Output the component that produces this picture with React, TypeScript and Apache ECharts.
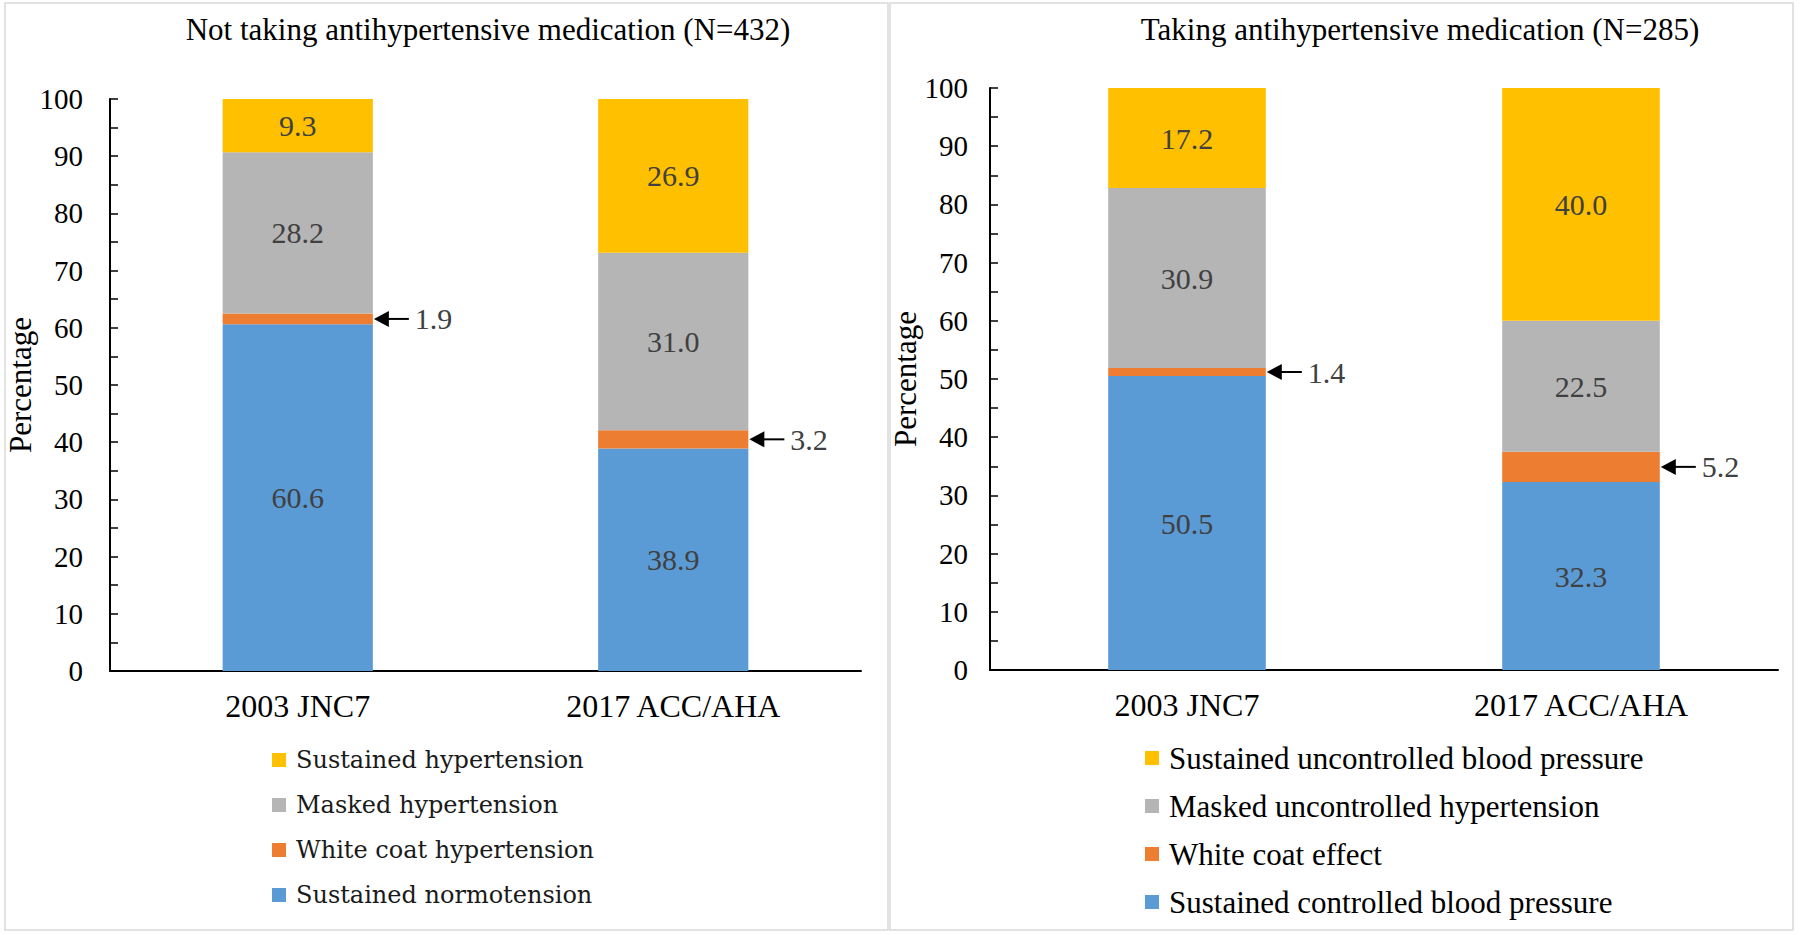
import React, { useEffect, useRef } from "react";
import * as echarts from "echarts";

const categories = ["2003 JNC7", "2017 ACC/AHA"];

const leftTitle = "Not taking antihypertensive medication (N=432)";
const rightTitle = "Taking antihypertensive medication (N=285)";
const yName = "Percentage";

const leftNames = [
  "Sustained normotension",
  "White coat hypertension",
  "Masked hypertension",
  "Sustained hypertension",
];
const leftBlue = [60.6, 38.9];
const leftOrange = [1.9, 3.2];
const leftGray = [28.2, 31.0];
const leftYellow = [9.3, 26.9];

const rightNames = [
  "Sustained controlled blood pressure",
  "White coat effect",
  "Masked uncontrolled hypertension",
  "Sustained uncontrolled blood pressure",
];
const rightBlue = [50.5, 32.3];
const rightOrange = [1.4, 5.2];
const rightGray = [30.9, 22.5];
const rightYellow = [17.2, 40.0];

const colors = ["#5B9BD5", "#ED7D31", "#B5B5B5", "#FFC000"];
const FONT = "Liberation Serif";

function buildSeries(
  gridIdx: number,
  names: string[],
  blue: number[],
  orange: number[],
  gray: number[],
  yellow: number[]
) {
  const sets = [blue, orange, gray, yellow];
  const stack = "s" + gridIdx;
  const bars = sets.map((vals, k) => ({
    type: "bar",
    name: names[k],
    xAxisIndex: gridIdx,
    yAxisIndex: gridIdx,
    stack,
    barCategoryGap: "60%",
    data: vals,
    itemStyle: { color: colors[k] },
    label: {
      show: k !== 1,
      position: "inside",
      formatter: (p: any) => Number(p.value).toFixed(1),
      color: "#404040",
      fontFamily: FONT,
      fontSize: 30,
    },
    emphasis: { disabled: true },
  }));
  const arrows = {
    type: "custom",
    xAxisIndex: gridIdx,
    yAxisIndex: gridIdx,
    silent: true,
    z: 10,
    encode: { x: 0, y: 1 },
    data: categories.map((_, i) => [i, blue[i] + orange[i] / 2, orange[i]]),
    renderItem: (params: any, api: any) => {
      const p = api.coord([api.value(0), api.value(1)]);
      const band = api.size([1, 0])[0];
      const x0 = p[0] + (band * 0.4) / 2;
      const y = p[1];
      return {
        type: "group",
        children: [
          {
            type: "polygon",
            shape: { points: [[x0 + 1, y], [x0 + 16, y - 8], [x0 + 16, y + 8]] },
            style: { fill: "#000" },
          },
          {
            type: "line",
            shape: { x1: x0 + 12, y1: y, x2: x0 + 36, y2: y },
            style: { stroke: "#000", lineWidth: 2 },
          },
          {
            type: "text",
            x: x0 + 42,
            y: y,
            style: {
              text: Number(api.value(2)).toFixed(1),
              fill: "#404040",
              fontSize: 30,
              fontFamily: FONT,
              align: "left",
              verticalAlign: "middle",
            },
          },
        ],
      };
    },
  };
  return [...bars, arrows];
}

function yAxisCfg(gridIdx: number, labelMargin: number) {
  return {
    type: "value",
    gridIndex: gridIdx,
    min: 0,
    max: 100,
    interval: 5,
    name: yName,
    nameLocation: "middle",
    nameGap: 66,
    nameRotate: 90,
    nameTextStyle: { fontFamily: FONT, fontSize: 31, color: "#000" },
    axisLine: { show: true, lineStyle: { color: "#000", width: 2 } },
    axisTick: { show: true, inside: true, length: 8, lineStyle: { color: "#000", width: 1.5 } },
    axisLabel: {
      formatter: (v: number) => (v % 10 === 0 ? String(v) : ""),
      fontFamily: FONT,
      fontSize: 29,
      color: "#000",
      margin: labelMargin,
    },
    splitLine: { show: false },
  };
}

function xAxisCfg(gridIdx: number) {
  return {
    type: "category",
    gridIndex: gridIdx,
    data: categories,
    axisLine: { show: true, lineStyle: { color: "#000", width: 2 } },
    axisTick: { show: false },
    axisLabel: { fontFamily: FONT, fontSize: 32, color: "#000", margin: 19 },
  };
}

export default function App() {
  const ref = useRef<HTMLDivElement>(null);
  useEffect(() => {
    if (!ref.current) return;
    const chart = echarts.init(ref.current, null, { renderer: "svg" });
    const option: any = {
      animation: false,
      backgroundColor: "#fff",
      title: [
        {
          text: leftTitle,
          left: 488,
          top: 14,
          textAlign: "center",
          padding: 0,
          textStyle: { fontFamily: FONT, fontSize: 31, fontWeight: "normal", color: "#000" },
        },
        {
          text: rightTitle,
          left: 1420,
          top: 14,
          textAlign: "center",
          padding: 0,
          textStyle: { fontFamily: FONT, fontSize: 31, fontWeight: "normal", color: "#000" },
        },
      ],
      grid: [
        { left: 110, right: 939, top: 99, bottom: 264 },
        { left: 990, right: 22, top: 88, bottom: 265 },
      ],
      xAxis: [xAxisCfg(0), xAxisCfg(1)],
      yAxis: [yAxisCfg(0, 27), yAxisCfg(1, 22)],
      legend: [
        {
          orient: "vertical",
          left: 272,
          top: 745,
          padding: 0,
          itemGap: 15,
          itemWidth: 14,
          itemHeight: 14,
          icon: "rect",
          selectedMode: false,
          data: [leftNames[3], leftNames[2], leftNames[1], leftNames[0]],
          textStyle: {
            fontFamily: "DejaVu Serif",
            fontSize: 24,
            color: "#1a1a1a",
            lineHeight: 30,
            padding: [0, 0, 0, 5],
          },
        },
        {
          orient: "vertical",
          left: 1145,
          top: 742,
          padding: 0,
          itemGap: 16,
          itemWidth: 14,
          itemHeight: 14,
          icon: "rect",
          selectedMode: false,
          data: [rightNames[3], rightNames[2], rightNames[1], rightNames[0]],
          textStyle: {
            fontFamily: FONT,
            fontSize: 31,
            color: "#000",
            lineHeight: 32,
            padding: [0, 0, 0, 5],
          },
        },
      ],
      graphic: [
        {
          type: "rect",
          silent: true,
          shape: { x: 5, y: 3, width: 883, height: 927 },
          style: { fill: "none", stroke: "#D9D9D9", lineWidth: 1.5 },
        },
        {
          type: "rect",
          silent: true,
          shape: { x: 890, y: 3, width: 903, height: 927 },
          style: { fill: "none", stroke: "#D9D9D9", lineWidth: 1.5 },
        },
      ],
      series: [
        ...buildSeries(0, leftNames, leftBlue, leftOrange, leftGray, leftYellow),
        ...buildSeries(1, rightNames, rightBlue, rightOrange, rightGray, rightYellow),
      ],
    };
    chart.setOption(option);
    return () => chart.dispose();
  }, []);
  return (
    <div
      ref={ref}
      style={{ position: "fixed", left: 0, top: 0, width: 1800, height: 935, background: "#fff" }}
    />
  );
}
